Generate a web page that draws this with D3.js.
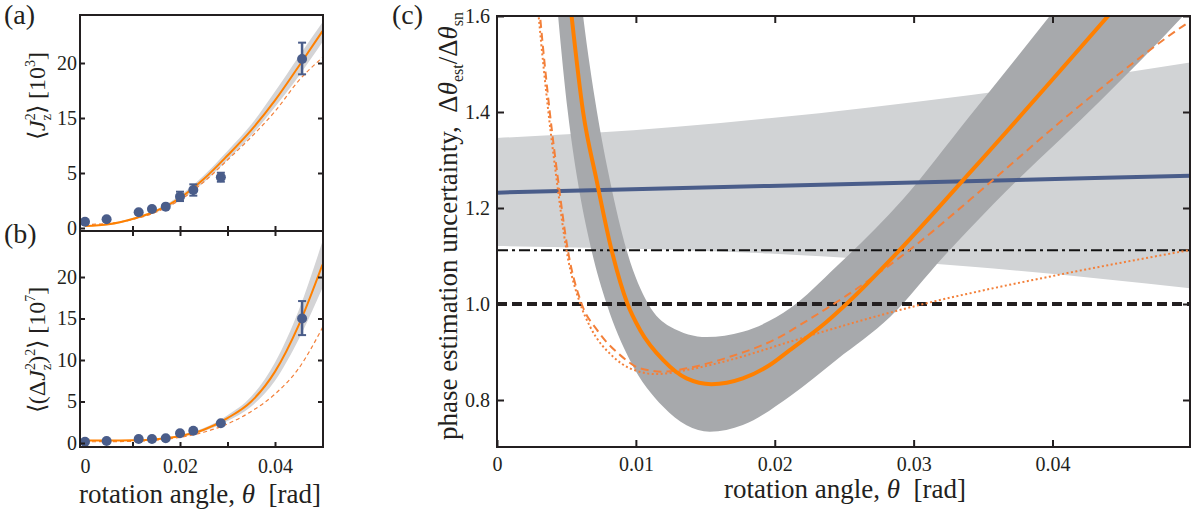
<!DOCTYPE html>
<html>
<head>
<meta charset="utf-8">
<script src="https://cdn.jsdelivr.net/npm/d3@7"></script>
<style>
  body { margin: 0; background: #fff; }
  svg { font-family: "Liberation Serif", "Times New Roman", serif; }
</style>
</head>
<body>
<svg id="fig" width="1192" height="511"></svg>
<script>
// ---------- data: panels (a) and (b) ----------
const thetaAB = [0, 0.005, 0.01, 0.015, 0.02, 0.025, 0.03, 0.035, 0.04, 0.045, 0.05];

const aFit       = [0.18, 0.34, 0.82, 1.55, 2.73, 4.45, 8.18, 12.8, 16.6, 19.7, 22.9];
const aBandHi    = [0.23, 0.41, 0.91, 1.68, 2.95, 4.77, 9.0, 13.8, 17.4, 20.6, 23.7];
const aBandLo    = [0.14, 0.27, 0.73, 1.41, 2.5, 4.14, 7.36, 11.8, 16.0, 18.8, 21.9];
const aFitDashed = [0.32, 0.41, 0.77, 1.45, 2.55, 4.18, 7.36, 11.55, 15.6, 18.4, 20.5];

const bFit       = [0.30, 0.30, 0.33, 0.46, 0.84, 1.6, 3.0, 5.0, 8.6, 14.2, 21.5];
const bBandHi    = [0.32, 0.32, 0.36, 0.52, 0.95, 1.8, 3.35, 5.6, 9.7, 16.0, 24.3];
const bBandLo    = [0.28, 0.28, 0.31, 0.41, 0.74, 1.42, 2.65, 4.4, 7.5, 12.5, 18.7];
const bFitDashed = [0.15, 0.16, 0.2, 0.33, 0.68, 1.3, 2.3, 3.8, 5.9, 9.0, 13.9];

const measTheta = [0, 0.00455, 0.0113, 0.0141, 0.0170, 0.0200, 0.0228, 0.0286, 0.0457];
const aMeas = [0.57, 0.79, 1.43, 1.73, 1.94, 2.85, 3.45, 4.61, 20.36];
const aLo   = [0.57, 0.79, 1.43, 1.73, 1.94, 2.45, 2.94, 4.21, 18.97];
const aHi   = [0.57, 0.79, 1.43, 1.73, 1.94, 3.3, 3.97, 5.05, 21.85];
const bMeas = [0.16, 0.24, 0.48, 0.48, 0.57, 1.17, 1.48, 2.37, 15.0];
const bLo   = [0.16, 0.24, 0.48, 0.48, 0.57, 1.17, 1.48, 2.37, 13.0];
const bHi   = [0.16, 0.24, 0.48, 0.48, 0.57, 1.17, 1.48, 2.37, 17.1];

const aTickVals = [0, 5, 15, 20];
const bTickVals = [0, 5, 10, 15, 20];
const abThetaTicks = [0.01, 0.02, 0.03, 0.04];
const abThetaLabels = [0, 0.02, 0.04];

// ---------- data: panel (c) ----------
const cShotTheta = [0, 0.0067, 0.0196, 0.0340, 0.0499];
const cShotHi = [1.346, 1.356, 1.387, 1.435, 1.503];
const cShotLo = [1.121, 1.117, 1.105, 1.078, 1.033];

const cBlueTheta = [0, 0.0196, 0.0499];
const cBlue = [1.232, 1.246, 1.267];

const cOuterTheta = [0.0041, 0.0044, 0.0051, 0.0058, 0.0068, 0.0079, 0.00957, 0.01197, 0.01532, 0.0177, 0.0211, 0.0245, 0.0283, 0.0322, 0.0358, 0.0435, 0.0494, 0.0505];
const cOuter      = [1.70, 1.60, 1.40, 1.258, 1.1125, 1.00, 0.883, 0.786, 0.734, 0.748, 0.808, 0.885, 0.973, 1.10, 1.21, 1.425, 1.60, 1.635];
const cInnerTheta = [0.0058, 0.0062, 0.0072, 0.00813, 0.00933, 0.01089, 0.01245, 0.01509, 0.0177, 0.0211, 0.02444, 0.0292, 0.0340, 0.0398, 0.0425];
const cInner      = [1.70, 1.60, 1.40, 1.258, 1.1125, 1.00, 0.953, 0.931, 0.942, 0.991, 1.078, 1.217, 1.390, 1.60, 1.70];

const cFitTheta = [0.0050, 0.00537, 0.0062, 0.00717, 0.00825, 0.0094, 0.0103, 0.01197, 0.01365, 0.01545, 0.0177, 0.01964, 0.02108, 0.0237, 0.02516, 0.0290, 0.0340, 0.0440, 0.0470];
const cFit      = [1.70, 1.60, 1.40, 1.258, 1.1125, 1.00, 0.946, 0.883, 0.845, 0.833, 0.845, 0.873, 0.904, 0.962, 1.00, 1.1125, 1.272, 1.60, 1.70];

const cDashTheta = [0.0028, 0.0031, 0.0038, 0.0044, 0.0051, 0.0061, 0.0072, 0.00885, 0.0103, 0.0120, 0.01365, 0.01676, 0.0206, 0.0218, 0.02276, 0.0254, 0.0297, 0.0355, 0.0403, 0.0450, 0.0497, 0.0505];
const cDash      = [1.70, 1.60, 1.40, 1.258, 1.1125, 1.00, 0.946, 0.894, 0.866, 0.859, 0.866, 0.890, 0.935, 0.956, 0.973, 1.022, 1.1125, 1.253, 1.373, 1.484, 1.585, 1.60];

const cDotTheta = [0.0027, 0.0030, 0.0037, 0.0043, 0.0050, 0.0060, 0.0067, 0.00837, 0.00957, 0.01149, 0.01365, 0.01676, 0.0211, 0.0264, 0.0307, 0.0340, 0.0403, 0.0499];
const cDot      = [1.70, 1.60, 1.40, 1.258, 1.1125, 1.00, 0.953, 0.890, 0.866, 0.854, 0.8625, 0.8833, 0.9215, 0.967, 1.00, 1.022, 1.060, 1.1125];

const cSqlLevel = 1.0;
const cBoundLevel = 1.112;
const cThetaTicks = [0, 0.01, 0.02, 0.03, 0.04];
const cYTicks = [0.8, 1.0, 1.2, 1.4, 1.6];

// ---------- styles ----------
const ORANGE = "#ff8000";
const ORANGE_LIGHT = "#f3803a";
const BLUE = "#4a5d8a";
const GRAY_BAND = "#d4d4d6";
const GRAY_LIGHT = "#d1d3d5";
const GRAY_DARK = "#a7a9ac";
const INK = "#231f20";
const FONT = '"Liberation Serif", "Times New Roman", serif';
const SP = "\u00A0";

const svg = d3.select("#fig");

const A = { left: 80, top: 15, right: 323, bottom: 231 };
const B = { left: 80, top: 231, right: 323, bottom: 447 };
const C = { left: 497, top: 16, right: 1190, bottom: 447 };

const xAB = d3.scaleLinear().domain([0, 0.05]).range([85, 322.5]);
// the left panel's tick labels are evenly spaced, so its scale is piecewise
const yA = d3.scaleLinear().domain(aTickVals).range(aTickVals.map((d, i) => 228 - 55 * i));
const yB = d3.scaleLinear().domain([0, 20]).range([443, 277]);
const xC = d3.scaleLinear().domain([0, 0.0499]).range([C.left, C.right]);
const yC = d3.scaleLinear().domain([0.7, 1.6]).range([448, 16]);

function clip(id, box) {
  svg.append("clipPath").attr("id", id)
    .append("rect")
    .attr("x", box.left).attr("y", box.top)
    .attr("width", box.right - box.left).attr("height", box.bottom - box.top);
  return svg.append("g").attr("clip-path", `url(#${id})`);
}

function styleAxis(g, size) {
  g.attr("font-family", FONT).attr("font-size", size);
  g.select(".domain").remove();
  g.selectAll(".tick line").attr("stroke", INK);
  g.selectAll(".tick text").attr("fill", INK);
}

// ---------- panels (a) and (b) ----------
function smallPanel(box, y, fit, hi, lo, dashed, meas, mLo, mHi, id) {
  const g = clip(id, box);
  const area = d3.area()
    .x((d, i) => xAB(thetaAB[i]))
    .y0((d, i) => y(lo[i]))
    .y1((d, i) => y(hi[i]))
    .curve(d3.curveMonotoneX);
  g.append("path").datum(thetaAB).attr("d", area).attr("fill", GRAY_BAND);

  const line = d3.line()
    .x((d, i) => xAB(thetaAB[i]))
    .y(d => y(d))
    .curve(d3.curveMonotoneX);
  g.append("path").datum(dashed).attr("d", line)
    .attr("fill", "none").attr("stroke", ORANGE_LIGHT)
    .attr("stroke-width", 1.2).attr("stroke-dasharray", "4,3");
  g.append("path").datum(fit).attr("d", line)
    .attr("fill", "none").attr("stroke", ORANGE).attr("stroke-width", 2);

  const pts = g.append("g");
  meas.forEach((v, i) => {
    const cx = xAB(measTheta[i]);
    if (mHi[i] !== mLo[i]) {
      pts.append("line").attr("x1", cx).attr("x2", cx)
        .attr("y1", y(mLo[i])).attr("y2", y(mHi[i]))
        .attr("stroke", BLUE).attr("stroke-width", 2.5);
      [mLo[i], mHi[i]].forEach(e => {
        pts.append("line").attr("x1", cx - 4).attr("x2", cx + 4)
          .attr("y1", y(e)).attr("y2", y(e))
          .attr("stroke", BLUE).attr("stroke-width", 2);
      });
    }
    pts.append("circle").attr("cx", cx).attr("cy", y(v)).attr("r", 5).attr("fill", BLUE);
  });

  svg.append("rect")
    .attr("x", box.left).attr("y", box.top)
    .attr("width", box.right - box.left).attr("height", box.bottom - box.top)
    .attr("fill", "none").attr("stroke", INK).attr("stroke-width", 2);
}

smallPanel(A, yA, aFit, aBandHi, aBandLo, aFitDashed, aMeas, aLo, aHi, "clipA");
smallPanel(B, yB, bFit, bBandHi, bBandLo, bFitDashed, bMeas, bLo, bHi, "clipB");

// y axes of (a) and (b)
[[A, yA, aTickVals], [B, yB, bTickVals]].forEach(([box, y, vals]) => {
  svg.append("g").attr("transform", `translate(${box.left},0)`)
    .call(d3.axisLeft(y).tickValues(vals).tickSize(-5).tickPadding(3).tickFormat(d3.format("d")))
    .call(g => styleAxis(g, 20));
  svg.append("g").attr("transform", `translate(${box.right},0)`)
    .call(d3.axisRight(y).tickValues(vals.filter(v => v > 0)).tickSize(-5).tickFormat(""))
    .call(g => styleAxis(g, 20));
});

// theta ticks of (a) and (b)
svg.append("g").attr("transform", `translate(0,${A.bottom})`)
  .call(d3.axisBottom(xAB).tickValues(abThetaTicks).tickSize(-5).tickFormat(""))
  .call(g => styleAxis(g, 20));
svg.append("g").attr("transform", `translate(0,${B.top})`)
  .call(d3.axisTop(xAB).tickValues(abThetaTicks).tickSize(-5).tickFormat(""))
  .call(g => styleAxis(g, 20));
svg.append("g").attr("transform", `translate(0,${B.bottom})`)
  .call(d3.axisBottom(xAB).tickValues(abThetaTicks).tickSize(-5).tickFormat(""))
  .call(g => styleAxis(g, 20));
svg.append("g").attr("transform", `translate(0,${B.bottom})`)
  .call(d3.axisBottom(xAB).tickValues(abThetaLabels).tickSize(0).tickPadding(12)
    .tickFormat(d => d === 0 ? "0" : d3.format(".2f")(d)))
  .call(g => styleAxis(g, 20));

// ---------- panel (c) ----------
const gc = clip("clipC", C);

const lineC = d3.line().x(d => xC(d[0])).y(d => yC(d[1])).curve(d3.curveMonotoneX);

const shotArea = d3.area()
  .x((d, i) => xC(cShotTheta[i]))
  .y0((d, i) => yC(cShotLo[i]))
  .y1((d, i) => yC(cShotHi[i]))
  .curve(d3.curveMonotoneX);
gc.append("path").datum(cShotTheta).attr("d", shotArea).attr("fill", GRAY_LIGHT);

const outer = d3.zip(cOuterTheta, cOuter);
const inner = d3.zip(cInnerTheta, cInner).reverse();
gc.append("path")
  .attr("d", lineC(outer) + lineC(inner).replace(/^M/, "L") + "Z")
  .attr("fill", GRAY_DARK);

gc.append("line")
  .attr("x1", C.left).attr("x2", C.right)
  .attr("y1", yC(cSqlLevel)).attr("y2", yC(cSqlLevel))
  .attr("stroke", INK).attr("stroke-width", 4).attr("stroke-dasharray", "10,5");
gc.append("line")
  .attr("x1", C.left).attr("x2", C.right)
  .attr("y1", yC(cBoundLevel)).attr("y2", yC(cBoundLevel))
  .attr("stroke", "#111").attr("stroke-width", 2).attr("stroke-dasharray", "11,4,3,4");

gc.append("path").attr("d", lineC(d3.zip(cBlueTheta, cBlue)))
  .attr("fill", "none").attr("stroke", BLUE).attr("stroke-width", 4);

gc.append("path").attr("d", lineC(d3.zip(cDashTheta, cDash)))
  .attr("fill", "none").attr("stroke", ORANGE_LIGHT).attr("stroke-width", 2)
  .attr("stroke-dasharray", "8,5");
gc.append("path").attr("d", lineC(d3.zip(cDotTheta, cDot)))
  .attr("fill", "none").attr("stroke", ORANGE_LIGHT).attr("stroke-width", 2)
  .attr("stroke-dasharray", "2,2.5");
gc.append("path").attr("d", lineC(d3.zip(cFitTheta, cFit)))
  .attr("fill", "none").attr("stroke", ORANGE).attr("stroke-width", 4);

svg.append("rect")
  .attr("x", C.left).attr("y", C.top)
  .attr("width", C.right - C.left).attr("height", C.bottom - C.top)
  .attr("fill", "none").attr("stroke", INK).attr("stroke-width", 2);

svg.append("g").attr("transform", `translate(${C.left},0)`)
  .call(d3.axisLeft(yC).tickValues(cYTicks).tickSize(-7).tickPadding(7).tickFormat(d3.format(".1f")))
  .call(g => styleAxis(g, 20));
svg.append("g").attr("transform", `translate(${C.right},0)`)
  .call(d3.axisRight(yC).tickValues(cYTicks).tickSize(-7).tickFormat(""))
  .call(g => styleAxis(g, 20));
svg.append("g").attr("transform", `translate(0,${C.bottom})`)
  .call(d3.axisBottom(xC).tickValues(cThetaTicks).tickSize(-7).tickPadding(10)
    .tickFormat(d => d === 0 ? "0" : d3.format(".2f")(d)))
  .call(g => styleAxis(g, 20));
svg.append("g").attr("transform", `translate(0,${C.top})`)
  .call(d3.axisTop(xC).tickValues(cThetaTicks.filter(v => v > 0)).tickSize(-7).tickFormat(""))
  .call(g => styleAxis(g, 20));
svg.selectAll(".tick line").attr("stroke-width", 2);

// ---------- text ----------
function richText(x, y, rotate, size, parts, anchor = "middle") {
  const t = svg.append("text")
    .attr("transform", `translate(${x},${y})` + (rotate ? " rotate(-90)" : ""))
    .attr("text-anchor", anchor)
    .attr("font-family", FONT).attr("font-size", size).attr("fill", INK);
  parts.forEach(p => {
    const s = t.append("tspan").text(p.t);
    if (p.it) s.attr("font-style", "italic");
    if (p.sz) s.attr("font-size", p.sz);
    if (p.dy) s.attr("dy", p.dy);
    if (p.dx) s.attr("dx", p.dx);
  });
  return t;
}

richText(4, 24, false, 28, [{ t: "(a)" }], "start");
richText(4, 243, false, 28, [{ t: "(b)" }], "start");
richText(392, 24, false, 28, [{ t: "(c)" }], "start");

richText(45, 96, true, 24, [
  { t: "\u27E8" }, { t: "J", it: true },
  { t: "2", sz: 14, dy: -10 }, { t: "z", sz: 14, dx: -7, dy: 16 },
  { t: "\u27E9" + SP + "[10", dy: -6 }, { t: "3", sz: 14, dy: -10 }, { t: "]", dy: 10 }
]);
richText(45, 350, true, 24, [
  { t: "\u27E8(\u0394" }, { t: "J", it: true },
  { t: "2", sz: 14, dy: -10 }, { t: "z", sz: 14, dx: -7, dy: 16 },
  { t: ")", dy: -6 }, { t: "2", sz: 14, dy: -10 },
  { t: "\u27E9" + SP + "[10", dy: 10 }, { t: "7", sz: 14, dy: -10 }, { t: "]", dy: 10 }
]);
richText(457, 226, true, 27, [
  { t: "phase estimation uncertainty," + SP + SP + "\u0394" }, { t: "\u03B8", it: true },
  { t: "est", sz: 16, dy: 6 }, { t: "/\u0394", dy: -6 }, { t: "\u03B8", it: true },
  { t: "sn", sz: 16, dy: 6 }
]);

const xTitle = [
  { t: "rotation angle, " }, { t: "\u03B8", it: true }, { t: SP + SP + "[rad]" }
];
richText(200, 503, false, 27, xTitle);
richText(845, 498, false, 27, xTitle);
</script>
</body>
</html>
